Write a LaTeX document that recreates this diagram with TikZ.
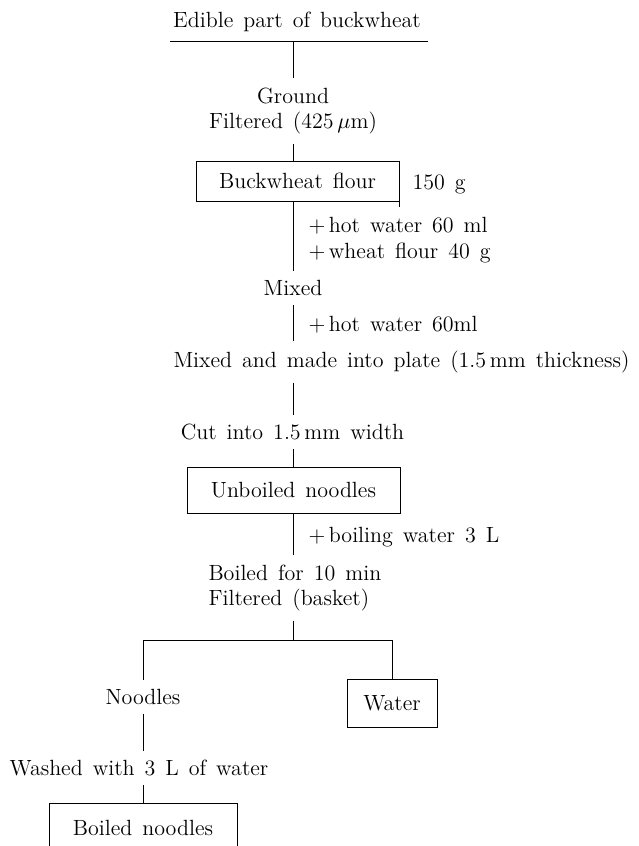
\documentclass[tikz,border=0pt]{standalone}
\newcommand{\flowfont}{\fontsize{11}{12.8}\selectfont\spaceskip=5pt plus 1pt minus 1pt\relax}
\begin{document}
\begin{tikzpicture}[
    x=0.5pt, y=-0.5pt,
    line width=0.5pt,
    every node/.style={font=\flowfont, inner xsep=2pt, inner ysep=4.5pt},
    box/.style={draw, minimum height=20pt, inner ysep=3pt},
    note/.style={anchor=west, align=left, inner sep=0pt}
]
\useasboundingbox (0,0) rectangle (638,846);
\clip (0,0) rectangle (638,846);
\coordinate (spine) at (293,0);

% nodes
\node (raw) at (297,22) {Edible part of buckwheat};
\coordinate (ulL) at (170,41);
\coordinate (ulR) at (428,41);
\node[align=center] (grind) at (293,111) {Ground\\Filtered (425\,$\mu$m)};
\node[box, minimum width=101.5pt] (flour) at (297.5,181) {Buckwheat flour};
\node[note] (gram) at (412,184) {150 g};
\node[note] (add1) at (308,240) {+\,hot water 60 ml\\+\,wheat flour 40 g};
\node (mix1) at (293,288) {Mixed};
\node[note] (add2) at (308,325) {+\,hot water 60ml};
\node[anchor=west, inner xsep=0pt] (plate) at (173,362) {Mixed and made into plate (1.5\,mm thickness)};
\node (cut) at (292.5,432) {Cut into 1.5\,mm width};
\node[box, minimum width=106.5pt, minimum height=23pt] (unboiled) at (293.5,490) {Unboiled noodles};
\node[note] (add3) at (308,537) {+\,boiling water 3 L};
\node[anchor=west, align=left, inner xsep=0pt] (boil) at (208,588) {Boiled for 10 min\\Filtered (basket)};
\coordinate (split) at (293,640);
\coordinate (leftc) at (143,640);
\coordinate (rightc) at (392,640);
\node (noodles) at (143,697) {Noodles};
\node[box, minimum width=45pt, minimum height=24pt] (water) at (392,703) {Water};
\node (wash) at (139,768) {Washed with 3 L of water};
\node[box, minimum width=94pt, minimum height=24pt, anchor=north] (boiled) at (143,803) {Boiled noodles};

% connectors
\draw (ulL) -- (ulR);
\draw (spine |- ulL) -- (grind.north -| spine);
\draw (grind.south -| spine) -- (flour.north -| spine);
\draw (flour.north east) -- (flour.south east) -- ++(0,5);
\draw (flour.south -| spine) -- (mix1.north -| spine);
\draw (mix1.south -| spine) -- (plate.north -| spine);
\draw (plate.south -| spine) -- (cut.north -| spine);
\draw (cut.south -| spine) -- (unboiled.north -| spine);
\draw (unboiled.south -| spine) -- (boil.north -| spine);
\draw (boil.south -| spine) -- (split);
\draw (leftc) -- (rightc);
\draw (leftc) -- (noodles.north);
\draw (rightc) -- (water.north -| rightc);
\draw (noodles) -- (wash.north -| leftc);
\draw (wash.south -| leftc) -- (boiled);
\end{tikzpicture}
\end{document}
